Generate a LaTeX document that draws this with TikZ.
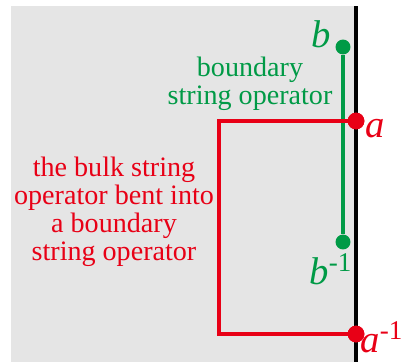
\documentclass[tikz,border=0pt]{standalone}
\usepackage{fontspec}
\setmainfont{Liberation Serif}
\usetikzlibrary{positioning}
\definecolor{bgray}{RGB}{229,229,229}
\definecolor{sgreen}{RGB}{0,154,70}
\definecolor{sred}{RGB}{232,0,22}
\tikzset{gdot/.style={circle,fill=sgreen,inner sep=0pt,minimum size=8.5pt},rdot/.style={circle,fill=sred,inner sep=0pt,minimum size=9.5pt},
gline/.style={sgreen,line width=1.8pt},rline/.style={sred,line width=2pt},
lab/.style={font=\fontsize{22}{22}\selectfont\itshape,inner sep=0pt},txt/.style={align=center,font=\fontsize{16}{16}\selectfont,inner sep=0pt}}
\begin{document}
\begin{tikzpicture}[x=0.02cm,y=-0.02cm]
\useasboundingbox (0,0) rectangle (401,362);
\fill[bgray] (11,6) rectangle (356,362);
\coordinate (top) at (356,6); \coordinate (bot) at (356,362);
\draw[line width=2pt] (top)--(bot);
\node[gdot] (b) at (343,47) {}; \node[gdot] (binv) at (343,242) {};
\coordinate (bend) at (219,334);
\draw[gline] (b)--(binv);
\node[rdot] (a) at (356,121) {}; \node[rdot] (ainv) at (356,334) {};
\draw[rline] (a.center) -| (bend) -- (ainv.center);
\node[rdot] at (a) {}; \node[rdot] at (ainv) {};
% labels
\node[lab,text=sgreen] (blab) at (321,34) {b};
\node[lab,text=sgreen] (binvlab) at (331,269) {b\textsuperscript{\upshape -1}};
\node[lab,text=sred] (alab) at (375,129) {a};
\node[lab,text=sred] (ainvlab) at (382,337) {a\textsuperscript{\upshape -1}};
\node[txt,text=sgreen] (btxt) at (250,84) {boundary\\string operator};
\node[txt,text=sred] (atxt) at (114,212) {the bulk string\\operator bent into\\a boundary\\string operator};
\end{tikzpicture}
\end{document}
